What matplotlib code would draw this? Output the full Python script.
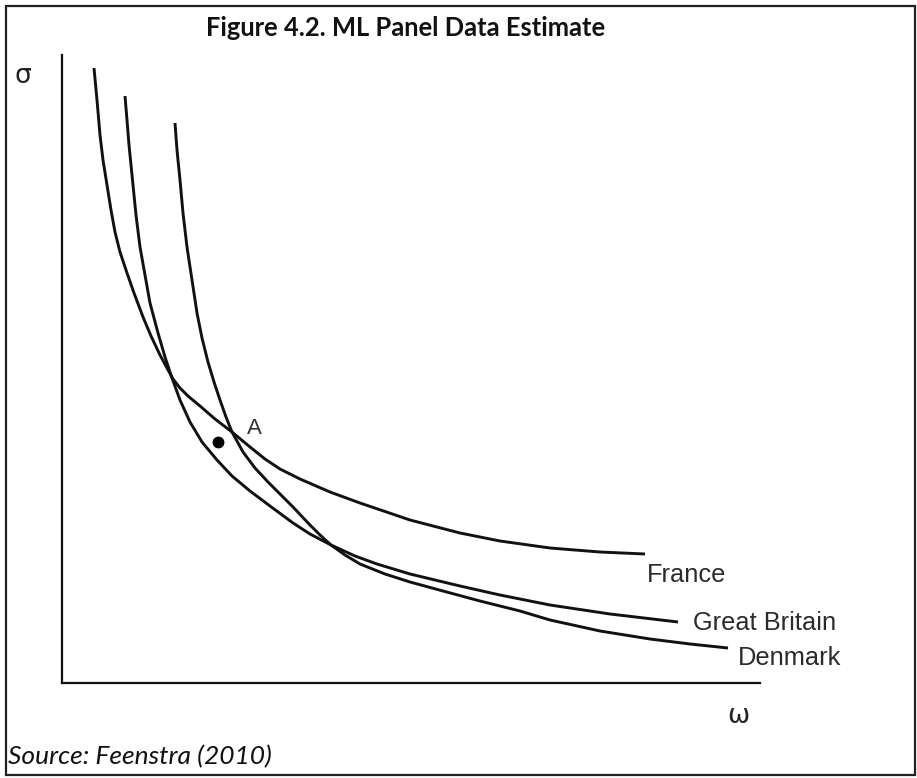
import matplotlib
matplotlib.use("Agg")
import matplotlib.pyplot as plt
from matplotlib.patches import Rectangle

W, H = 917, 778

# curves (omega, sigma) in axis units
france_w = [32, 35, 38, 41, 45, 49, 53, 58, 65, 72, 81, 89, 98, 105, 111, 118, 126, 138, 153,
            170, 188, 203, 218, 238, 268, 298, 348, 398, 438, 488, 538, 583]
france_s = [615, 583, 548, 523, 498, 473, 451, 431, 410, 390, 366, 347, 328, 315, 304, 295, 287,
            277, 264, 251, 236, 224, 214, 204, 191, 180, 163, 150, 142, 135, 131, 129]

gb_w = [63, 65, 67, 69, 71, 74, 78, 83, 88, 96, 103, 110, 118, 128, 140, 155, 170, 188, 208,
        231, 248, 269, 293, 315, 348, 398, 438, 488, 548, 616]
gb_s = [587, 563, 538, 518, 498, 468, 436, 408, 380, 350, 326, 305, 283, 261, 241, 223, 207,
        192, 177, 160, 149, 138, 127, 119, 109, 97, 88, 78, 69, 61]

dk_w = [113, 115, 118, 121, 125, 130, 135, 140, 146, 152, 158, 164, 170, 181, 193, 206, 218,
        231, 248, 258, 269, 283, 298, 323, 348, 381, 418, 458, 488, 538, 588, 628, 666]
dk_s = [560, 533, 503, 470, 436, 403, 370, 345, 321, 301, 283, 266, 251, 231, 215, 201, 189,
        176, 158, 148, 138, 128, 119, 109, 101, 92, 82, 72, 63, 52, 44, 39, 35]

curve_names = ["France", "Great Britain", "Denmark"]
label_pos = [(585, 108), (631, 60), (676, 25)]
point_a = (156, 241)

fig = plt.figure(figsize=(W / 100, H / 100), dpi=100)
ax = fig.add_axes([62 / W, 95 / H, 698 / W, 628 / H])
ax.set_xlim(0, 698)
ax.set_ylim(0, 628)
ax.set_xticks([])
ax.set_yticks([])
ax.spines["top"].set_visible(False)
ax.spines["right"].set_visible(False)
for sp in ("left", "bottom"):
    ax.spines[sp].set_linewidth(1.6)
    ax.spines[sp].set_color("#111111")

for xs, ys in [(france_w, france_s), (gb_w, gb_s), (dk_w, dk_s)]:
    ax.plot(xs, ys, color="#111111", lw=2.1, solid_capstyle="butt",
            solid_joinstyle="round", clip_on=False)

for name, (lx, ly) in zip(curve_names, label_pos):
    ax.text(lx, ly, name, fontsize=18.3, family="Liberation Sans", color="#2a2a2a",
            va="center", ha="left")

ax.plot([point_a[0]], [point_a[1]], "o", color="black", ms=7.5)
ax.text(185, 255, "A", fontsize=16, family="Liberation Sans", color="#333333",
        va="center", ha="left")

fig.text(406 / W, 1 - 28 / H, "Figure 4.2. ML Panel Data Estimate", fontsize=18.4,
         fontweight="bold", family="Lato", ha="center", va="center", color="#111111")
fig.text(23 / W, 1 - 76 / H, "σ", fontsize=19, family="DejaVu Sans", ha="center", va="center",
         color="#222222")
fig.text(738 / W, 1 - 716 / H, "ω", fontsize=19, family="DejaVu Sans", ha="center",
         va="center", color="#222222")
fig.text(8 / W, 1 - 757 / H, "Source: Feenstra (2010)", fontsize=19, style="italic",
         family="Lato", ha="left", va="center", color="#111111")

fig.patches.append(Rectangle((6 / W, 3 / H), 909 / W, 769 / H, transform=fig.transFigure,
                             fill=False, lw=1.6, ec="#222222"))

fig.savefig("out.png", dpi=100)
